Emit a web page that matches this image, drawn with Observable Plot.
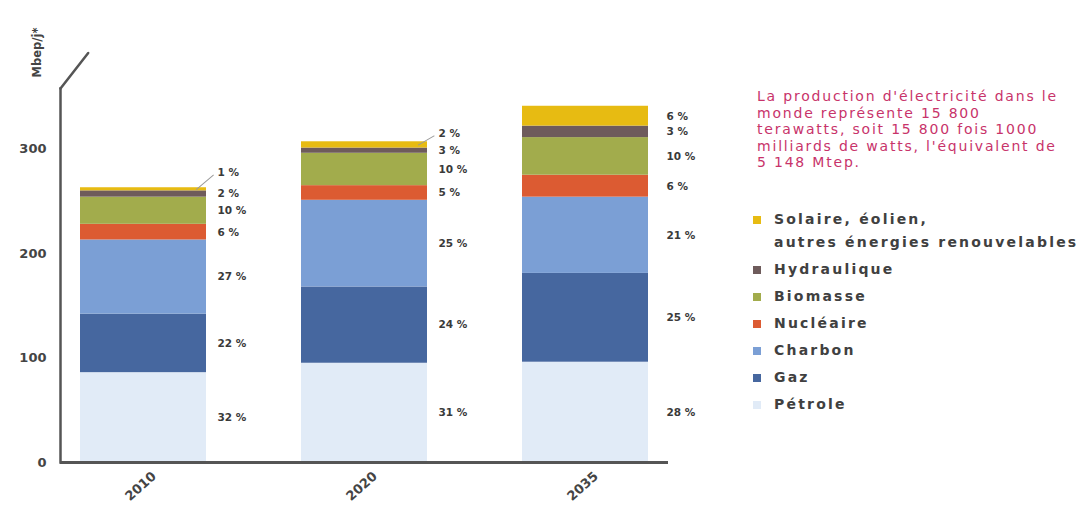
<!DOCTYPE html>
<html>
<head>
<meta charset="utf-8">
<script src="https://cdn.jsdelivr.net/npm/d3@7"></script>
<script src="https://cdn.jsdelivr.net/npm/@observablehq/plot@0.6"></script>
<style>
  html, body { margin: 0; padding: 0; background: #fff; }
  #wrap { position: relative; width: 1083px; height: 519px; overflow: hidden; background: #fff; }
  #chart { position: absolute; left: 0; top: 0; }
  #note { position: absolute; left: 757px; top: 88px; width: 326px; color: #c8336a; white-space: nowrap;
          font-family: "DejaVu Sans", sans-serif; font-size: 14px; line-height: 16.5px; letter-spacing: 1.8px; }
  #legend { position: absolute; left: 753px; top: 208px; font-family: "DejaVu Sans", sans-serif; white-space: nowrap;
            font-size: 14px; font-weight: bold; color: #404040; letter-spacing: 2.2px; }
  .item { display: flex; align-items: flex-start; line-height: 27px; }
  .item.first { line-height: 23px; margin-bottom: 2px; }
  .sw { width: 8px; height: 8px; flex: none; margin-right: 13px; }
</style>
</head>
<body>
<div id="wrap">
  <div id="chart"></div>
  <div id="note"></div>
  <div id="legend"></div>
</div>
<script>
const years = ["2010", "2020", "2035"];
const sources = ["Pétrole", "Gaz", "Charbon", "Nucléaire", "Biomasse", "Hydraulique", "Solaire, éolien, autres énergies renouvelables"];
const legendLabels = ["Pétrole", "Gaz", "Charbon", "Nucléaire", "Biomasse", "Hydraulique", "Solaire, éolien,\nautres énergies renouvelables"];
const colors = ["#e1ebf7", "#46679f", "#7b9fd5", "#dc5b32", "#a2ac4c", "#6e5b5b", "#e7bb12"];
const values2010 = [86, 56, 71, 15, 26, 6, 3];
const values2020 = [95, 73, 83, 14, 31, 5, 6];
const values2035 = [96, 85, 73, 21, 36, 11, 19];
const pct2010 = [32, 22, 27, 6, 10, 2, 1];
const pct2020 = [31, 24, 25, 5, 10, 3, 2];
const pct2035 = [28, 25, 21, 6, 10, 3, 6];
const yTicks = [0, 100, 200, 300];
const yLabel = "Mbep/j*";
const noteLines = ["La production d'électricité dans le", "monde représente 15 800", "terawatts, soit 15 800 fois 1000", "milliards de watts, l'équivalent de", "5 148 Mtep."];

const valueSets = [values2010, values2020, values2035];
const pctSets = [pct2010, pct2020, pct2035];
const rows = [];
years.forEach((yr, i) => {
  let acc = 0;
  sources.forEach((s, j) => {
    const v = valueSets[i][j];
    rows.push({year: yr, source: s, value: v, pct: pctSets[i][j], lo: acc, hi: acc + v, mid: acc + v / 2, top: j === sources.length - 1});
    acc += v;
  });
});
const normalEarly = rows.filter(d => d.year !== "2035" && !d.top);
const normalLate = rows.filter(d => d.year === "2035");
const lead2010 = rows.filter(d => d.top && d.year === "2010");
const lead2020 = rows.filter(d => d.top && d.year === "2020");
const line = {draw(context, l) { context.moveTo(0, 0); context.lineTo(0, -l); }};
const pctFmt = d => d.pct + " %";
const labelStyle = {fontFamily: "DejaVu Sans, sans-serif", fontSize: 10.5, fontWeight: "bold", fill: "#3a3a3a", textAnchor: "start"};

const chart = Plot.plot({
  width: 700, height: 519,
  marginLeft: 60, marginRight: 32, marginTop: 88, marginBottom: 57,
  style: {fontFamily: "DejaVu Sans, sans-serif", background: "#fff"},
  x: {domain: years, paddingInner: 0.43, paddingOuter: 0.09, axis: null},
  y: {domain: [0, 358], axis: null},
  color: {domain: sources, range: colors},
  marks: [
    Plot.barY(rows, {x: "year", y1: "lo", y2: "hi", fill: "source"}),
    Plot.axisY(yTicks, {tickSize: 0, tickPadding: 14, fontSize: 13, fontWeight: "bold", fill: "#444", label: null}),
    Plot.text([yLabel], {frameAnchor: "top-left", dx: -23, dy: -36, rotate: -90, textAnchor: "middle", lineAnchor: "middle", fontSize: 11.5, fill: "#444", fontWeight: "bold"}),
    Plot.text(years, {x: d => d, frameAnchor: "bottom", dy: 27, rotate: -42, fontSize: 13, fontWeight: "bold", fill: "#444"}),
    Plot.ruleY([0], {stroke: "#555", strokeWidth: 3}),
    Plot.frame({anchor: "left", stroke: "#555", strokeWidth: 2.5}),
    Plot.vector([0], {frameAnchor: "top-left", anchor: "start", rotate: 38, length: 45, shape: line, stroke: "#555", strokeWidth: 2.5}),
    Plot.text(normalEarly, {x: "year", y: "mid", text: pctFmt, dx: 74, ...labelStyle}),
    Plot.text(normalLate, {x: "year", y: "mid", text: pctFmt, dx: 81, ...labelStyle}),
    Plot.text(lead2010, {x: "year", y: "mid", text: pctFmt, dx: 74, dy: -17, ...labelStyle}),
    Plot.text(lead2020, {x: "year", y: "mid", text: pctFmt, dx: 74, dy: -11, ...labelStyle}),
    Plot.vector(lead2010, {x: "year", y: "mid", dx: 53, anchor: "start", rotate: 50, length: 22, shape: line, stroke: "#999", strokeWidth: 1}),
    Plot.vector(lead2020, {x: "year", y: "mid", dx: 54, anchor: "start", rotate: 60, length: 18, shape: line, stroke: "#999", strokeWidth: 1})
  ]
});
document.getElementById("chart").appendChild(chart);

document.getElementById("note").innerHTML = noteLines.join("<br>");

const legend = document.getElementById("legend");
for (let j = sources.length - 1; j >= 0; j--) {
  const item = document.createElement("div");
  item.className = "item" + (j === sources.length - 1 ? " first" : "");
  const sw = document.createElement("span");
  sw.className = "sw";
  sw.style.background = colors[j];
  const lineH = j === sources.length - 1 ? 23 : 27;
  sw.style.marginTop = ((lineH - 8) / 2) + "px";
  const txt = document.createElement("span");
  txt.innerHTML = legendLabels[j].replace("\n", "<br>");
  item.appendChild(sw);
  item.appendChild(txt);
  legend.appendChild(item);
}
</script>
</body>
</html>
